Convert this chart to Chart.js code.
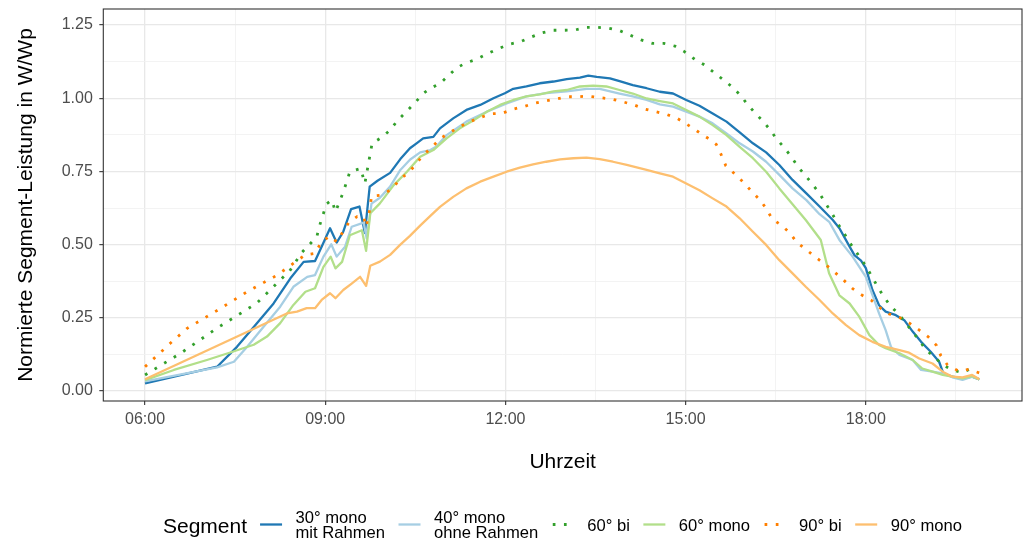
<!DOCTYPE html>
<html>
<head>
<meta charset="utf-8">
<script src="https://cdn.jsdelivr.net/npm/chart.js@4.4.1/dist/chart.umd.min.js"></script>
<style>
  html, body { margin: 0; padding: 0; background: #ffffff; }
  #wrap { width: 1024px; height: 539px; }
</style>
</head>
<body>
<div id="wrap"><canvas id="c" width="1024" height="539"></canvas></div>
<script>
// ---------- data (time in decimal hours, value in W/Wp) ----------
const legendTitle = 'Segment';
const seriesLabels = [
  ['30° mono', 'mit Rahmen'],
  ['40° mono', 'ohne Rahmen'],
  ['60° bi'],
  ['60° mono'],
  ['90° bi'],
  ['90° mono']
];
const xTickHours = [6, 7.5, 9, 10.5, 12, 13.5, 15, 16.5, 18, 19.5];
const yTickValues = [0, 0.125, 0.25, 0.375, 0.5, 0.625, 0.75, 0.875, 1, 1.125, 1.25];

const t30mono = [6.00,7.20,7.53,7.81,8.14,8.42,8.64,8.83,8.94,9.08,9.19,9.30,9.43,9.57,9.66,9.74,9.87,10.08,10.25,10.41,10.52,10.63,10.80,10.91,11.13,11.35,11.58,11.80,11.99,12.13,12.35,12.57,12.80,13.02,13.24,13.38,13.52,13.74,13.90,14.12,14.35,14.57,14.79,15.01,15.23,15.45,15.68,15.90,16.12,16.34,16.56,16.78,17.01,17.23,17.45,17.56,17.73,17.81,17.92,18.00,18.11,18.22,18.33,18.50,18.64,18.78,18.92,19.08,19.22,19.29,19.44,19.61,19.77,19.89];
const v30mono = [0.026,0.083,0.151,0.219,0.299,0.385,0.441,0.444,0.493,0.556,0.507,0.544,0.621,0.630,0.540,0.698,0.718,0.745,0.792,0.829,0.846,0.863,0.868,0.897,0.931,0.960,0.977,1.000,1.017,1.032,1.040,1.051,1.057,1.065,1.070,1.077,1.073,1.068,1.058,1.045,1.034,1.022,1.016,0.994,0.974,0.948,0.920,0.883,0.846,0.815,0.772,0.721,0.675,0.630,0.584,0.556,0.493,0.464,0.445,0.420,0.345,0.293,0.271,0.259,0.242,0.203,0.168,0.134,0.100,0.060,0.049,0.043,0.049,0.040];

const t40mono = [6.00,7.20,7.48,7.70,7.97,8.25,8.47,8.70,8.83,8.97,9.10,9.19,9.33,9.44,9.64,9.69,9.77,9.91,10.08,10.25,10.41,10.58,10.75,10.85,11.02,11.35,11.69,12.02,12.35,12.68,13.02,13.35,13.57,13.90,14.12,14.35,14.57,14.79,15.01,15.23,15.45,15.68,15.90,16.12,16.34,16.56,16.78,17.01,17.23,17.39,17.56,17.78,18.00,18.14,18.22,18.33,18.42,18.56,18.78,18.92,19.11,19.28,19.44,19.61,19.77,19.89];
const v40mono = [0.033,0.081,0.100,0.151,0.219,0.288,0.356,0.390,0.396,0.459,0.501,0.459,0.493,0.561,0.575,0.521,0.640,0.660,0.698,0.755,0.790,0.815,0.823,0.835,0.874,0.920,0.954,0.982,1.006,1.017,1.023,1.032,1.032,1.016,1.006,0.994,0.979,0.971,0.954,0.937,0.914,0.880,0.846,0.818,0.783,0.738,0.692,0.652,0.604,0.578,0.516,0.459,0.390,0.311,0.265,0.208,0.150,0.123,0.106,0.072,0.066,0.060,0.047,0.038,0.049,0.040];

const t60bi = [6.00,6.60,7.20,7.86,8.41,8.61,8.86,8.90,9.02,9.11,9.17,9.30,9.41,9.59,9.66,9.75,9.78,9.94,10.08,10.20,10.35,10.50,10.63,10.77,10.91,11.05,11.19,11.35,11.52,11.69,11.88,12.06,12.25,12.43,12.62,12.80,12.98,13.16,13.35,13.53,13.72,13.90,14.09,14.26,14.45,14.64,14.82,14.98,15.15,15.32,15.47,15.62,15.76,15.90,16.01,16.14,16.27,16.40,16.51,16.63,16.76,16.87,16.99,17.10,17.23,17.33,17.43,17.53,17.64,17.74,17.85,17.96,18.07,18.18,18.28,18.40,18.52,18.65,18.76,18.89,19.00,19.14,19.28,19.44,19.61,19.72,19.85];
const v60bi = [0.055,0.130,0.215,0.300,0.411,0.473,0.527,0.561,0.639,0.652,0.612,0.679,0.749,0.760,0.709,0.812,0.846,0.866,0.891,0.923,0.954,0.986,1.016,1.036,1.050,1.077,1.104,1.121,1.133,1.151,1.169,1.184,1.193,1.209,1.224,1.232,1.232,1.233,1.242,1.242,1.239,1.231,1.214,1.199,1.187,1.187,1.178,1.159,1.133,1.113,1.088,1.064,1.041,1.013,0.984,0.953,0.925,0.894,0.862,0.834,0.800,0.766,0.737,0.709,0.675,0.641,0.609,0.573,0.538,0.504,0.472,0.439,0.402,0.362,0.328,0.293,0.268,0.237,0.206,0.174,0.140,0.117,0.089,0.072,0.062,0.074,0.070];

const t60mono = [6.00,6.48,7.03,7.47,7.81,8.03,8.25,8.47,8.67,8.83,8.97,9.09,9.17,9.28,9.41,9.61,9.68,9.75,9.91,10.14,10.36,10.58,10.80,11.02,11.24,11.47,11.69,11.91,12.13,12.35,12.57,12.80,13.02,13.24,13.46,13.68,13.90,14.12,14.35,14.57,14.79,15.01,15.23,15.45,15.68,15.90,16.12,16.34,16.56,16.78,17.00,17.25,17.39,17.56,17.73,17.89,18.06,18.22,18.33,18.56,18.78,18.94,19.11,19.28,19.44,19.61,19.77,19.89];
const v60mono = [0.037,0.072,0.106,0.135,0.158,0.186,0.232,0.294,0.339,0.351,0.424,0.459,0.419,0.441,0.532,0.549,0.479,0.607,0.641,0.703,0.749,0.800,0.823,0.863,0.897,0.925,0.954,0.977,0.994,1.006,1.013,1.023,1.028,1.040,1.043,1.040,1.028,1.016,0.999,0.990,0.982,0.960,0.937,0.908,0.874,0.834,0.795,0.749,0.692,0.638,0.584,0.516,0.401,0.327,0.299,0.254,0.191,0.157,0.146,0.129,0.106,0.077,0.066,0.055,0.049,0.043,0.051,0.040];

const t90bi = [6.00,6.42,6.70,7.20,7.70,8.20,8.53,8.67,8.83,8.93,9.07,9.19,9.28,9.39,9.53,9.64,9.68,9.72,9.75,9.77,9.94,10.11,10.25,10.39,10.51,10.63,10.77,10.91,11.05,11.24,11.41,11.58,11.77,11.94,12.12,12.30,12.47,12.66,12.84,13.02,13.21,13.38,13.57,13.77,13.95,14.14,14.32,14.50,14.68,14.86,15.02,15.19,15.36,15.51,15.59,15.67,15.81,15.95,16.09,16.23,16.34,16.44,16.59,16.73,16.85,17.00,17.17,17.34,17.49,17.64,17.78,17.94,18.09,18.25,18.39,18.56,18.72,18.89,19.04,19.18,19.25,19.36,19.54,19.72,19.89];
const v90bi = [0.083,0.163,0.214,0.275,0.339,0.396,0.445,0.465,0.470,0.507,0.529,0.510,0.539,0.575,0.596,0.596,0.561,0.596,0.632,0.666,0.669,0.690,0.725,0.746,0.775,0.806,0.831,0.861,0.880,0.903,0.920,0.934,0.947,0.948,0.962,0.971,0.982,0.990,0.997,1.005,1.005,1.007,1.002,0.997,0.988,0.977,0.963,0.954,0.945,0.931,0.911,0.888,0.865,0.842,0.808,0.769,0.743,0.715,0.684,0.654,0.624,0.588,0.567,0.541,0.508,0.484,0.456,0.430,0.404,0.377,0.350,0.327,0.310,0.282,0.263,0.251,0.233,0.208,0.185,0.155,0.120,0.089,0.069,0.074,0.062];

const t90mono = [6.00,8.36,8.53,8.69,8.83,8.94,9.08,9.17,9.30,9.44,9.58,9.68,9.75,9.91,10.08,10.25,10.41,10.58,10.75,10.91,11.13,11.35,11.58,11.80,12.02,12.24,12.46,12.68,12.91,13.13,13.35,13.57,13.79,14.02,14.35,14.57,14.79,15.01,15.23,15.45,15.68,15.90,16.12,16.34,16.56,16.78,17.00,17.23,17.45,17.67,17.89,18.11,18.33,18.56,18.72,18.89,19.11,19.28,19.44,19.61,19.77,19.89];
const v90mono = [0.040,0.265,0.271,0.283,0.283,0.311,0.334,0.317,0.345,0.367,0.390,0.359,0.428,0.442,0.465,0.500,0.530,0.565,0.598,0.629,0.663,0.692,0.715,0.732,0.749,0.763,0.774,0.783,0.791,0.795,0.797,0.792,0.783,0.772,0.755,0.743,0.732,0.709,0.686,0.658,0.630,0.590,0.544,0.499,0.447,0.402,0.356,0.311,0.265,0.225,0.191,0.168,0.151,0.140,0.131,0.111,0.094,0.066,0.049,0.047,0.055,0.040];

const seriesTimes = [t30mono, t40mono, t60bi, t60mono, t90bi, t90mono];
const seriesValues = [v30mono, v40mono, v60bi, v60mono, v90bi, v90mono];

// ---------- styles ----------
const seriesColors = ['#1F78B4', '#A6CEE3', '#33A02C', '#B2DF8A', '#FF7F00', '#FDBF6F'];
const seriesDotted = [false, false, true, false, true, false];

const FONT = '"Liberation Sans", Arial, Helvetica, sans-serif';

const datasets = seriesTimes.map((ts, i) => ({
  label: seriesLabels[i].join(' '),
  data: ts.map((t, k) => ({ x: t, y: seriesValues[i][k] })),
  borderColor: seriesColors[i],
  backgroundColor: seriesColors[i],
  borderWidth: seriesDotted[i] ? 2.8 : 2.3,
  borderDash: seriesDotted[i] ? [2.7, 8.5] : [],
  borderCapStyle: 'butt',
  borderJoinStyle: 'round',
  pointRadius: 0,
  tension: 0,
  fill: false,
  order: 10 - i
}));

function isMajorX(v) { return Math.abs(v / 3 - Math.round(v / 3)) < 1e-6; }
function isMajorY(v) { return Math.abs(v / 0.25 - Math.round(v / 0.25)) < 1e-6; }
function fmtHour(v) { const h = Math.round(v); return (h < 10 ? '0' : '') + h + ':00'; }

const panelBorder = {
  id: 'panelBorder',
  afterDatasetsDraw(chart) {
    const { ctx, chartArea: a } = chart;
    ctx.save();
    ctx.strokeStyle = '#333333';
    ctx.lineWidth = 1.1;
    ctx.strokeRect(a.left, a.top, a.right - a.left, a.bottom - a.top);
    ctx.restore();
  }
};

const ggLegend = {
  id: 'ggLegend',
  afterDraw(chart) {
    const ctx = chart.ctx;
    const cy = 524.5;
    let x = 163;
    ctx.save();
    ctx.fillStyle = '#000000';
    ctx.textBaseline = 'alphabetic';
    ctx.textAlign = 'left';
    ctx.font = '21px ' + FONT;
    ctx.fillText(legendTitle, x, cy + 8);
    x += ctx.measureText(legendTitle).width + 13;
    chart.data.datasets.forEach((ds, i) => {
      ctx.save();
      ctx.strokeStyle = ds.borderColor;
      ctx.lineWidth = ds.borderWidth;
      ctx.setLineDash(ds.borderDash || []);
      ctx.lineCap = 'butt';
      ctx.beginPath();
      ctx.moveTo(x + (seriesDotted[i] ? 1 : 0), cy);
      ctx.lineTo(x + 22, cy);
      ctx.stroke();
      ctx.restore();
      x += 22 + 13.5;
      ctx.font = '16.6px ' + FONT;
      const lines = seriesLabels[i];
      const n = lines.length;
      const lh = 14.5;
      let w = 0;
      lines.forEach((ln, k) => {
        const base = cy + 6 + (k - (n - 1) / 2) * lh;
        ctx.fillText(ln, x, base);
        w = Math.max(w, ctx.measureText(ln).width);
      });
      x += w + 13.5;
    });
    ctx.restore();
  }
};

new Chart(document.getElementById('c'), {
  type: 'line',
  data: { datasets },
  plugins: [panelBorder, ggLegend],
  options: {
    responsive: false,
    animation: false,
    devicePixelRatio: 1,
    layout: { padding: { top: 9, right: 2, bottom: 63, left: 0 } },
    plugins: { legend: { display: false }, tooltip: { enabled: false } },
    elements: { point: { radius: 0 }, line: { tension: 0 } },
    scales: {
      x: {
        type: 'linear',
        min: 5.305,
        max: 20.6,
        afterBuildTicks: (s) => { s.ticks = xTickHours.map(v => ({ value: v })); },
        afterFit: (s) => { s.height = 75; s.paddingLeft = 0; s.paddingRight = 0; },
        border: { display: false },
        grid: {
          color: (c) => (c.tick && isMajorX(c.tick.value)) ? '#E8E8E8' : '#F0F0F0',
          lineWidth: (c) => (c.tick && isMajorX(c.tick.value)) ? 1.3 : 0.8,
          tickColor: (c) => (c.tick && isMajorX(c.tick.value)) ? '#333333' : 'rgba(0,0,0,0)',
          tickLength: 4,
          tickWidth: 1.1,
          drawTicks: true
        },
        ticks: {
          autoSkip: false,
          maxRotation: 0,
          minRotation: 0,
          padding: 5,
          color: '#4D4D4D',
          font: { family: FONT, size: 16 },
          callback: (v) => isMajorX(v) ? fmtHour(v) : ''
        },
        title: {
          display: true,
          text: 'Uhrzeit',
          color: '#000000',
          font: { family: FONT, size: 21 },
          padding: { top: 0, bottom: 1.5 }
        }
      },
      y: {
        type: 'linear',
        min: -0.034,
        max: 1.3046,
        afterBuildTicks: (s) => { s.ticks = yTickValues.map(v => ({ value: v })); },
        afterFit: (s) => { s.width = 103.3; s.paddingTop = 0; s.paddingBottom = 0; },
        border: { display: false },
        grid: {
          color: (c) => (c.tick && isMajorY(c.tick.value)) ? '#E8E8E8' : '#F0F0F0',
          lineWidth: (c) => (c.tick && isMajorY(c.tick.value)) ? 1.3 : 0.8,
          tickColor: (c) => (c.tick && isMajorY(c.tick.value)) ? '#333333' : 'rgba(0,0,0,0)',
          tickLength: 4,
          tickWidth: 1.1,
          drawTicks: true
        },
        ticks: {
          autoSkip: false,
          padding: 6.5,
          color: '#4D4D4D',
          font: { family: FONT, size: 16 },
          callback: (v) => isMajorY(v) ? v.toFixed(2) : ''
        },
        title: {
          display: true,
          text: 'Normierte Segment-Leistung in W/Wp',
          color: '#000000',
          font: { family: FONT, size: 21 },
          padding: { top: 13.9, bottom: 0 }
        }
      }
    }
  }
});
</script>
</body>
</html>
